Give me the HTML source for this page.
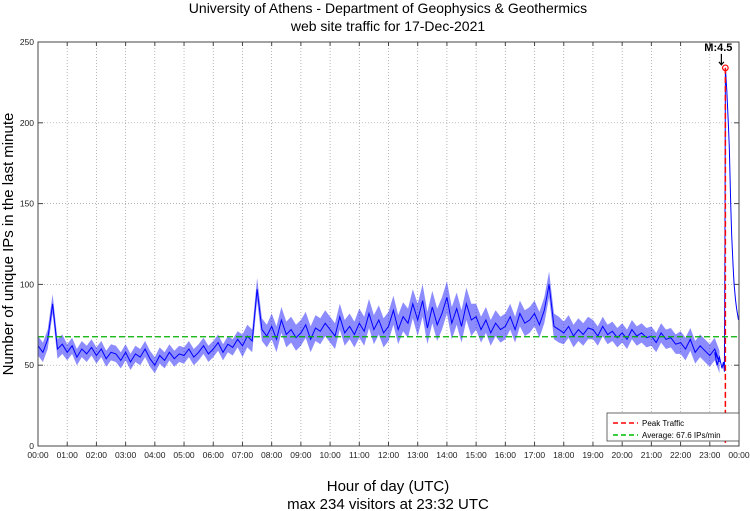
<!DOCTYPE html>
<html><head><meta charset="utf-8"><style>
body{margin:0;background:#fff;}
svg{display:block;font-family:"Liberation Sans",sans-serif;}
</style></head><body>
<svg id="chart" width="750" height="511" viewBox="0 0 750 511">
<rect width="750" height="511" fill="#fff"/>
<text x="388" y="13" font-size="14" text-anchor="middle">University of Athens - Department of Geophysics &amp; Geothermics</text>
<text x="388" y="31" font-size="14" text-anchor="middle">web site traffic for 17-Dec-2021</text>
<g id="grid"></g>
<g id="ticks"></g>
<g id="series"></g>
<rect x="38" y="42" width="701" height="404" fill="none" stroke="#444" stroke-width="1"/>
<text x="388" y="491" font-size="15" text-anchor="middle">Hour of day (UTC)</text>
<text x="388" y="509" font-size="15" text-anchor="middle">max 234 visitors at 23:32 UTC</text>
<text transform="translate(13,244) rotate(-90)" font-size="15" text-anchor="middle">Number of unique IPs in the last minute</text>
<g>
<rect x="607" y="413" width="132" height="28" fill="#fff" stroke="#444" stroke-width="0.8"/>
<line x1="613" y1="423" x2="638" y2="423" stroke="#f00" stroke-width="1.5" stroke-dasharray="5,3"/>
<text x="642" y="426" font-size="8">Peak Traffic</text>
<line x1="613" y1="435" x2="638" y2="435" stroke="#0b0" stroke-width="1.5" stroke-dasharray="5,3"/>
<text x="642" y="438" font-size="8">Average: 67.6 IPs/min</text>
</g>
</svg>
<script>
const baseValues=[62,58,66,88,60,63, 58,62,55,60,57,61, 56,60,54,58,57,53, 58,52,57,55,60,54,
50,56,53,58,54,57, 56,60,55,58,62,57, 60,64,58,63,61,66, 62,68,65,97,72,68,
74,66,78,69,72,67, 70,75,66,73,71,76, 72,68,80,70,74,69, 76,71,82,72,78,70,
74,84,72,80,76,88, 78,90,73,86,75,82, 92,76,85,74,88,78, 80,72,78,70,76,72,
74,80,72,82,76,78, 82,75,84,100,74,72, 70,74,68,72,69,73, 72,68,74,69,71,67,
70,66,72,68,70,67, 68,64,70,66,67,63, 64,60,66,58,62,59, 56,60,52];
const hourlySpread=[6,5,5,5,5,5,5,7,8,8,8,9,9,10,10,8,8,8,7,6,6,6,7,7];
const tailMinutes=[1390,1395,1400,1405,1408,1410,1411,1412,1415,1418,1420,1423,1425,1428,1430,1433,1435,1439];
const tailValues=[58,50,55,48,52,46,120,234,220,200,185,150,130,110,100,90,85,78];
const yTicks=[0,50,100,150,200,250];
const xTickLabels=["00:00","01:00","02:00","03:00","04:00","05:00","06:00","07:00","08:00","09:00","10:00","11:00","12:00","13:00","14:00","15:00","16:00","17:00","18:00","19:00","20:00","21:00","22:00","23:00","00:00"];
const avgValue=67.6, peakMinute=1412, peakValue=234;

const L=38,R=739,T=42,B=446;
const xs=m=>L+m/1440*(R-L);
const ys=v=>B-v/250*(B-T);
const NS="http://www.w3.org/2000/svg";
function mk(tag,attrs,parent){const e=document.createElementNS(NS,tag);for(const k in attrs)e.setAttribute(k,attrs[k]);parent.appendChild(e);return e;}
const grid=document.getElementById('grid'),ticks=document.getElementById('ticks'),series=document.getElementById('series');
xTickLabels.forEach((lab,i)=>{
  const x=xs(i*60);
  if(i>0&&i<24){const g=mk('line',{x1:x,y1:T,x2:x,y2:B,stroke:'#999','stroke-width':0.7,'stroke-dasharray':'1,2'},grid);
  
  }
  mk('line',{x1:x,y1:B,x2:x,y2:B-4,stroke:'#444'},ticks);
  mk('line',{x1:x,y1:T,x2:x,y2:T+4,stroke:'#444'},ticks);
  const t=mk('text',{x:x,y:B+12,'font-size':8.5,'text-anchor':'middle',fill:'#222'},ticks);
  t.textContent=lab;
  
  
});
yTicks.forEach(v=>{
  const y=ys(v);
  if(v>0&&v<250){const g=mk('line',{x1:L,y1:y,x2:R,y2:y,stroke:'#999','stroke-width':0.7,'stroke-dasharray':'1,2'},grid);
  
  }
  mk('line',{x1:L,y1:y,x2:L+5,y2:y,stroke:'#444'},ticks);
  mk('line',{x1:R,y1:y,x2:R-5,y2:y,stroke:'#444'},ticks);
  const t=mk('text',{x:L-4,y:y+3,'font-size':8.5,'text-anchor':'end',fill:'#222'},ticks);
  t.textContent=v;
  
  
});
// noise envelope band
const up=[],dn=[];
baseValues.forEach((v,i)=>{const s=hourlySpread[Math.floor(i/6)];up.push(xs(i*10).toFixed(1)+','+ys(v+s).toFixed(1));dn.unshift(xs(i*10).toFixed(1)+','+ys(v-s).toFixed(1));});
const band=mk('polygon',{points:up.concat(dn).join(' '),fill:'#0000ff','fill-opacity':0.45,stroke:'none'},series);


const pts=baseValues.map((v,i)=>[i*10,v]).concat(tailMinutes.map((m,i)=>[m,tailValues[i]]));
const line=mk('polyline',{points:pts.map(p=>xs(p[0]).toFixed(1)+','+ys(p[1]).toFixed(1)).join(' '),fill:'none',stroke:'#0000ff','stroke-width':1},series);


const avg=mk('line',{x1:L,x2:R,y1:ys(avgValue),y2:ys(avgValue),stroke:'#00b000','stroke-width':1.3,'stroke-dasharray':'6,3'},series);


const pk=mk('line',{x1:xs(peakMinute),x2:xs(peakMinute),y1:ys(peakValue),y2:B,stroke:'#f00','stroke-width':1.5,'stroke-dasharray':'6,3'},series);


const c=mk('circle',{cx:xs(peakMinute),cy:ys(peakValue),r:2.8,fill:'none',stroke:'#f00','stroke-width':1.2},series);


const ax=xs(peakMinute)-4;
const ar=mk('path',{d:`M${ax},${ys(peakValue)-14} L${ax},${ys(peakValue)-3} M${ax-2.5},${ys(peakValue)-6} L${ax},${ys(peakValue)-3} L${ax+2.5},${ys(peakValue)-6}`,stroke:'#000',fill:'none','stroke-width':1.2},series);


const mt=mk('text',{x:ax-3,y:ys(peakValue)-17,'font-size':11,'font-weight':'bold','text-anchor':'middle'},series);
mt.textContent='M:4.5';


</script>
</body></html>
